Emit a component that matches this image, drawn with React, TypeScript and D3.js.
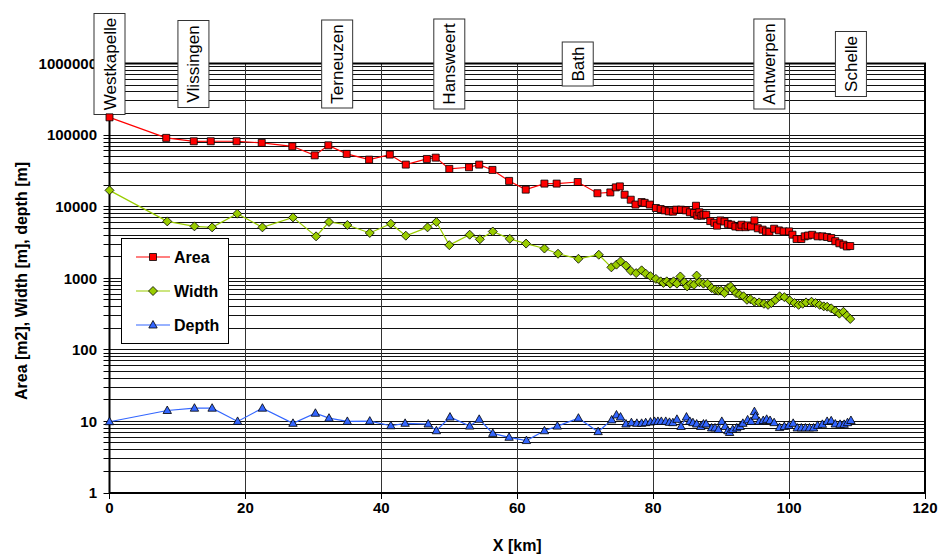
import React, { useEffect, useRef } from 'react';
import * as d3 from 'd3';

const xTicks = [0, 20, 40, 60, 80, 100, 120];
const yTicks = [1, 10, 100, 1000, 10000, 100000, 1000000];
const stationNames = ['Westkapelle', 'Vlissingen', 'Terneuzen', 'Hansweert', 'Bath', 'Antwerpen', 'Schelle'];
const stationKm = [0, 12.35, 33.5, 50.0, 68.9, 97.1, 109.1];
const seriesNames = ['Area', 'Width', 'Depth'];
const seriesColors = ['#FF0000', '#99CC00', '#3366FF'];

const areaData: [number, number][] = [
  [0, 177000], [8.35, 91400], [12.4, 81900], [14.9, 82000], [18.7, 82000], [22.4, 77800], [26.9, 69700],
  [30.2, 52100], [32.2, 71900], [34.9, 54600], [38.2, 45400], [41.25, 53400], [43.6, 38700], [46.7, 46400],
  [48.0, 48400], [50.0, 33700], [52.9, 35500], [54.4, 38700], [56.35, 32600], [58.8, 22900], [61.25, 17300],
  [64.0, 21000], [65.8, 21000], [68.9, 22100], [71.8, 15400], [73.7, 15800], [74.5, 18600], [75.1, 19200],
  [75.8, 14700], [76.7, 12500], [77.4, 10700], [78.3, 11600], [78.75, 11300], [79.5, 10700], [80.4, 9580],
  [81.1, 9280], [81.7, 8880], [82.3, 8600], [82.9, 8520], [83.4, 9080], [84.1, 9080], [84.8, 8880],
  [85.4, 8340], [86.0, 8170], [86.3, 10300], [86.5, 7500], [86.8, 8340], [87.1, 7470], [87.4, 7730],
  [87.8, 7730], [88.4, 6290], [89.0, 5950], [89.4, 5430], [89.9, 6420], [90.5, 6200], [91.0, 5750],
  [91.5, 5600], [92.1, 5280], [92.7, 5170], [93.0, 5600], [93.6, 5170], [93.9, 5470], [94.4, 5280],
  [94.9, 6420], [95.4, 4990], [96.1, 4770], [96.6, 4510], [97.1, 4450], [97.8, 4920], [98.5, 4660],
  [99.2, 4510], [100.0, 4510], [100.5, 4060], [101.1, 3530], [101.8, 3530], [102.3, 3850], [102.8, 3950],
  [103.4, 4050], [104.2, 3850], [104.9, 3850], [105.6, 3770], [106.2, 3650], [106.8, 3290], [107.4, 3080],
  [108.0, 2940], [108.5, 2780], [109.0, 2820],
];

const widthData: [number, number][] = [
  [0, 16900], [8.5, 6230], [12.5, 5310], [15.1, 5140], [18.8, 7980], [22.5, 5140], [27.0, 7080],
  [30.4, 3850], [32.3, 6110], [35.0, 5550], [38.3, 4290], [41.4, 5780], [43.6, 3930], [46.8, 5140],
  [48.1, 6110], [50.0, 2900], [53.0, 4060], [54.5, 3500], [56.4, 4500], [58.9, 3550], [61.3, 3050],
  [64.0, 2600], [66.0, 2200], [69.0, 1870], [72.0, 2130], [73.85, 1420], [74.6, 1550], [75.2, 1720],
  [76.0, 1500], [76.7, 1270], [77.5, 1180], [78.3, 1290], [78.9, 1160], [79.6, 1070], [80.4, 980],
  [81.1, 905], [81.5, 860], [82.0, 905], [82.5, 840], [83.0, 905], [83.5, 840], [84.0, 1060],
  [84.6, 880], [85.0, 770], [85.5, 840], [86.0, 810], [86.4, 1090], [86.8, 880], [87.4, 840],
  [88.0, 840], [88.6, 730], [89.1, 690], [89.6, 670], [90.0, 670], [90.5, 620], [91.0, 730],
  [91.4, 770], [91.8, 690], [92.2, 620], [92.7, 590], [93.3, 560], [93.8, 500], [94.3, 510],
  [94.9, 470], [95.6, 460], [96.3, 440], [96.9, 425], [97.4, 450], [98.0, 500], [98.6, 560],
  [99.3, 545], [100.1, 490], [100.8, 450], [101.4, 425], [102.0, 440], [102.5, 460], [103.3, 470],
  [103.9, 450], [104.5, 425], [105.1, 405], [105.6, 400], [106.2, 380], [106.8, 350], [107.4, 320],
  [108.0, 340], [108.5, 300], [109.0, 270],
];

const depthData: [number, number][] = [
  [0, 9.9], [8.5, 14.2], [12.5, 15.3], [15.1, 15.3], [18.85, 10.0], [22.5, 15.3], [27.0, 9.4],
  [30.3, 13.0], [32.3, 11.1], [35.0, 10.0], [38.3, 10.1], [41.4, 8.7], [43.5, 9.4], [46.9, 9.2],
  [48.1, 7.4], [50.1, 11.5], [53.0, 8.6], [54.4, 10.7], [56.4, 6.8], [58.8, 6.0], [61.35, 5.4],
  [64.0, 7.4], [65.9, 8.6], [69.0, 11.1], [71.9, 7.2], [73.9, 10.5], [74.6, 12.3], [75.2, 11.5],
  [76.0, 9.2], [76.8, 9.6], [77.6, 9.4], [78.3, 9.4], [78.9, 9.6], [79.6, 9.8], [80.2, 10.0],
  [80.7, 10.0], [81.2, 10.0], [81.85, 10.0], [82.4, 9.7], [82.9, 9.6], [83.5, 10.7], [84.1, 8.5],
  [84.9, 11.5], [85.4, 10.0], [85.85, 9.6], [86.4, 9.2], [87.0, 8.5], [87.4, 9.2], [87.8, 9.2],
  [88.6, 8.1], [89.1, 8.1], [89.6, 7.7], [90.1, 10.0], [90.6, 8.5], [91.0, 7.4], [91.25, 7.0],
  [91.7, 7.7], [92.3, 8.1], [92.8, 8.5], [93.2, 9.4], [93.9, 10.5], [94.4, 10.0], [94.9, 13.7],
  [95.05, 11.8], [95.6, 10.0], [96.2, 10.3], [96.7, 10.7], [97.2, 10.3], [97.8, 9.6], [98.6, 8.2],
  [99.3, 8.5], [99.97, 8.8], [100.6, 9.4], [101.2, 8.1], [101.8, 8.1], [102.4, 8.1], [103.0, 8.1],
  [103.6, 8.1], [104.2, 8.8], [104.9, 9.1], [105.6, 10.0], [106.2, 10.2], [106.8, 9.2], [107.5, 9.1],
  [108.1, 9.1], [108.6, 9.6], [109.1, 10.3],
];

const FONT = "'Liberation Sans', Arial, Helvetica, sans-serif";

const markerPaths = [
  'M-3.5,-3.5H3.5V3.5H-3.5Z',
  'M0,-4.5L4.5,0L0,4.5L-4.5,0Z',
  'M0,-4.5L4.2,3L-4.2,3Z',
];

export default function App() {
  const ref = useRef<SVGSVGElement>(null);

  useEffect(() => {
    const svg = d3.select(ref.current);
    svg.selectAll('*').remove();
    const W = 940, H = 557;
    const x = d3.scaleLinear().domain([0, 120]).range([109.5, 925]);
    const y = d3.scaleLog().domain([1, 1e6]).range([493, 63.5]);
    const crisp = (v: number) => Math.round(v - 0.5) + 0.5;

    svg.append('rect').attr('width', W).attr('height', H).attr('fill', '#fff');

    // horizontal gridlines (major + minor)
    const gridVals: number[] = [];
    for (let e = 0; e < 6; e++) for (let k = 1; k < 10; k++) gridVals.push(k * Math.pow(10, e));
    gridVals.push(1e6);

    const grid = svg.append('g');
    grid.selectAll('line.h').data(gridVals).join('line')
      .attr('class', 'h')
      .attr('x1', x(0)).attr('x2', x(120))
      .attr('y1', d => crisp(y(d))).attr('y2', d => crisp(y(d)))
      .attr('stroke', '#111').attr('stroke-width', 1);
    grid.selectAll('line.v').data(xTicks.slice(1, -1)).join('line')
      .attr('class', 'v')
      .attr('x1', d => crisp(x(d))).attr('x2', d => crisp(x(d)))
      .attr('y1', y(1e6)).attr('y2', y(1))
      .attr('stroke', '#333').attr('stroke-width', 1);

    // y ticks (left)
    grid.selectAll('line.yt').data(gridVals).join('line')
      .attr('class', 'yt')
      .attr('x1', x(0) - 6).attr('x2', x(0))
      .attr('y1', d => crisp(y(d))).attr('y2', d => crisp(y(d)))
      .attr('stroke', '#000').attr('stroke-width', 1);
    // x ticks
    grid.selectAll('line.xt').data(xTicks).join('line')
      .attr('class', 'xt')
      .attr('x1', d => crisp(x(d))).attr('x2', d => crisp(x(d)))
      .attr('y1', y(1)).attr('y2', y(1) + 6)
      .attr('stroke', '#000').attr('stroke-width', 1);

    // frame
    svg.append('rect')
      .attr('x', x(0)).attr('y', y(1e6))
      .attr('width', x(120) - x(0)).attr('height', y(1) - y(1e6))
      .attr('fill', 'none').attr('stroke', '#000').attr('stroke-width', 2);

    // tick labels
    svg.append('g').selectAll('text').data(yTicks).join('text')
      .attr('x', 97).attr('y', d => y(d)).attr('dy', '0.35em')
      .attr('text-anchor', 'end')
      .attr('font-family', FONT).attr('font-size', 15).attr('font-weight', 'bold')
      .text(d => String(d));
    svg.append('g').selectAll('text').data(xTicks).join('text')
      .attr('x', d => x(d)).attr('y', 513)
      .attr('text-anchor', 'middle')
      .attr('font-family', FONT).attr('font-size', 15).attr('font-weight', 'bold')
      .text(d => String(d));

    // axis titles
    svg.append('text')
      .attr('transform', 'translate(21,281) rotate(-90)')
      .attr('dy', '0.35em')
      .attr('text-anchor', 'middle')
      .attr('font-family', FONT).attr('font-size', 16).attr('font-weight', 'bold')
      .text('Area [m2], Width [m], depth [m]');
    svg.append('text')
      .attr('x', (x(0) + x(120)) / 2).attr('y', 551)
      .attr('text-anchor', 'middle')
      .attr('font-family', FONT).attr('font-size', 16).attr('font-weight', 'bold')
      .text('X [km]');

    // station labels
    const st = svg.append('g');
    stationNames.forEach((name, i) => {
      const cx = x(stationKm[i]);
      const g = st.append('g').attr('transform', `translate(${cx},64)`);
      const rect = g.append('rect').attr('fill', '#fff').attr('stroke', '#333').attr('stroke-width', 1);
      const t = g.append('text')
        .attr('transform', 'rotate(-90)')
        .attr('x', 0).attr('y', 6)
        .attr('text-anchor', 'middle')
        .attr('font-family', FONT).attr('font-size', 17)
        .text(name);
      const len = (t.node() as SVGTextElement).getComputedTextLength();
      const h = Math.round(len + 9);
      rect.attr('x', -15.5).attr('y', -h / 2).attr('width', 31).attr('height', h);
    });

    // series
    const all = [areaData, widthData, depthData];
    const line = d3.line<[number, number]>().x(d => x(d[0])).y(d => y(d[1]));
    all.forEach((data, i) => {
      svg.append('path').datum(data)
        .attr('d', line)
        .attr('fill', 'none').attr('stroke', seriesColors[i]).attr('stroke-width', 1.2);
    });
    all.forEach((data, i) => {
      svg.append('g').selectAll('path').data(data).join('path')
        .attr('d', markerPaths[i])
        .attr('transform', d => `translate(${x(d[0])},${y(d[1])})`)
        .attr('fill', seriesColors[i]).attr('stroke', '#000').attr('stroke-width', 0.8);
    });

    // legend
    const lg = svg.append('g');
    lg.append('rect').attr('x', 121.5).attr('y', 238.5).attr('width', 107).attr('height', 105)
      .attr('fill', '#fff').attr('stroke', '#000').attr('stroke-width', 1);
    const rowsY = [257, 291, 325];
    seriesNames.forEach((name, i) => {
      lg.append('line').attr('x1', 136).attr('x2', 170).attr('y1', rowsY[i]).attr('y2', rowsY[i])
        .attr('stroke', seriesColors[i]).attr('stroke-width', 1.2);
      lg.append('path').attr('d', markerPaths[i]).attr('transform', `translate(153,${rowsY[i]})`)
        .attr('fill', seriesColors[i]).attr('stroke', '#000').attr('stroke-width', 0.8);
      lg.append('text').attr('x', 174).attr('y', rowsY[i]).attr('dy', '0.35em')
        .attr('font-family', FONT).attr('font-size', 16).attr('font-weight', 'bold')
        .text(name);
    });
  }, []);

  return (
    <svg
      ref={ref}
      width={940}
      height={557}
      style={{ position: 'absolute', left: 0, top: 0, display: 'block' }}
    />
  );
}
